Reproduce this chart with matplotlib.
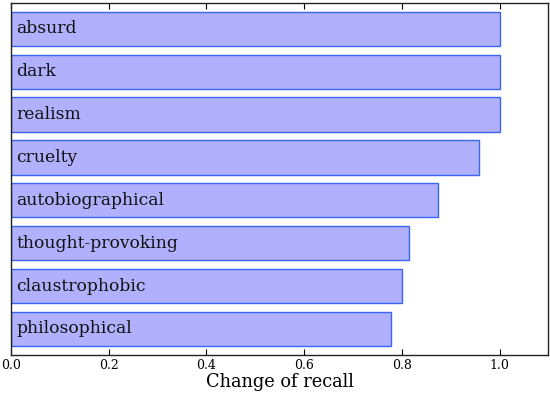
import matplotlib
matplotlib.use("Agg")
import matplotlib.pyplot as plt

categories = ["absurd", "dark", "realism", "cruelty", "autobiographical",
              "thought-provoking", "claustrophobic", "philosophical"]
values = [1.0, 1.0, 1.0, 0.958, 0.874, 0.815, 0.800, 0.778]
xticks = [0.0, 0.2, 0.4, 0.6, 0.8, 1.0]

plt.rcParams['font.family'] = ['DejaVu Serif']
fig = plt.figure(figsize=(5.5, 3.94), dpi=100)
ax = fig.add_axes([0.02, 0.1, 0.977, 0.892])

n = len(categories)
ypos = [n - 1 - i for i in range(n)]
ax.barh(ypos, values, height=0.8, color='#b0b0fc', edgecolor='#3a66f0', linewidth=1.0)
for y, c in zip(ypos, categories):
    ax.text(0.011, y, c, va='center', ha='left', fontsize=12.3, color='#111111')

ax.set_xlim(0, 1.1)
ax.set_ylim(-0.6, n - 0.4)
ax.set_yticks([])
ax.set_xticks(xticks)
ax.set_xticklabels([f"{t:.1f}" for t in xticks], fontsize=9)
ax.tick_params(axis='x', direction='in', top=True, length=4, width=0.8, pad=3)
ax.set_xlabel("Change of recall", fontsize=12.8, labelpad=1)
for s in ax.spines.values():
    s.set_linewidth(1.0)
    s.set_color('#222222')

fig.savefig("out.png", dpi=100)
